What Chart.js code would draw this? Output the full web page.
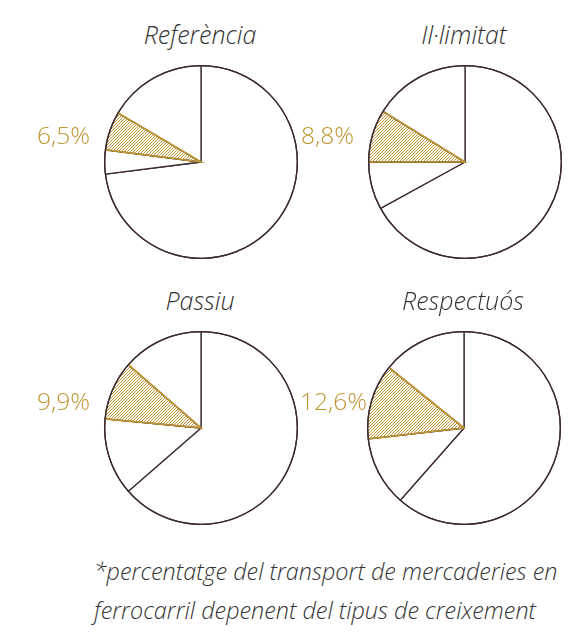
<!DOCTYPE html>
<html>
<head>
<meta charset="utf-8">
<script src="https://cdn.jsdelivr.net/npm/chart.js@4"></script>
<style>
  body { margin: 0; background: #fff; }
  .page { position: relative; width: 579px; height: 638px; font-family: 'Open Sans', sans-serif; }
  .title { position: absolute; width: 200px; text-align: center; font-style: italic; font-weight: 300;
           font-size: 25px; line-height: 30px; color: #333; }
  canvas { position: absolute; }
  .note { position: absolute; left: 94px; top: 552px; font-style: italic; font-weight: 300;
          font-size: 23.4px; line-height: 39px; color: #333; white-space: nowrap; }
</style>
</head>
<body>
<div class="page" id="page">
  <div class="note">*percentatge del transport de mercaderies en<br>ferrocarril depenent del tipus de creixement</div>
</div>
<script>
const titles = ['Referència', 'Il·limitat', 'Passiu', 'Respectuós'];
// slices clockwise from 12 o'clock: big white, small white, rail (hatched), top white
const bigSlice = [73, 67, 63.6, 61.5];
const smallSlice = [4, 8, 12.9, 11.7];
const railShare = [6.5, 8.8, 9.9, 12.6];
const topSlice = [16.5, 16.2, 13.6, 14.2];
const shareLabels = ['6,5%', '8,8%', '9,9%', '12,6%'];

const centers = [[201, 162], [465, 162], [201, 428], [464, 428]];
const titleTops = [19, 19, 285, 285];

const DARK = '#3d2a2d';
const GOLD = '#bf9534';

function hatch(color) {
  const c = document.createElement('canvas');
  c.width = 3;
  c.height = 3;
  const x = c.getContext('2d');
  x.fillStyle = '#fff';
  x.fillRect(0, 0, 3, 3);
  x.fillStyle = color;
  for (let i = 0; i < 3; i++) x.fillRect(i, 2 - i, 1, 1);
  return x.createPattern(c, 'repeat');
}

// re-stroke the rail slice edges in gold and the rim in dark, then the label
const edgePlugin = {
  id: 'edges',
  afterDatasetsDraw(chart) {
    const ctx = chart.ctx;
    const a = chart.getDatasetMeta(0).data[2];
    const { x, y, outerRadius, startAngle, endAngle } = a.getProps(['x', 'y', 'outerRadius', 'startAngle', 'endAngle']);
    ctx.save();
    ctx.lineWidth = 1.7;
    ctx.strokeStyle = GOLD;
    ctx.beginPath();
    ctx.moveTo(x + outerRadius * Math.cos(startAngle), y + outerRadius * Math.sin(startAngle));
    ctx.lineTo(x, y);
    ctx.lineTo(x + outerRadius * Math.cos(endAngle), y + outerRadius * Math.sin(endAngle));
    ctx.stroke();
    ctx.lineWidth = 1.3;
    ctx.strokeStyle = DARK;
    ctx.beginPath();
    ctx.arc(x, y, outerRadius, 0, Math.PI * 2);
    ctx.stroke();
    const opts = chart.options.plugins.edges;
    ctx.fillStyle = GOLD;
    ctx.font = '300 24.5px "Open Sans", sans-serif';
    ctx.textAlign = 'left';
    ctx.textBaseline = 'middle';
    ctx.fillText(opts.label, x - 164, y - 25);
    ctx.restore();
  }
};

const page = document.getElementById('page');

titles.forEach((title, i) => {
  const [cx, cy] = centers[i];

  const t = document.createElement('div');
  t.className = 'title';
  t.textContent = title;
  t.style.left = (cx - 101) + 'px';
  t.style.top = titleTops[i] + 'px';
  page.appendChild(t);

  const canvas = document.createElement('canvas');
  canvas.width = 300;
  canvas.height = 200;
  canvas.style.left = (cx - 200) + 'px';
  canvas.style.top = (cy - 100) + 'px';
  page.appendChild(canvas);

  new Chart(canvas.getContext('2d'), {
    type: 'pie',
    data: {
      labels: ['a', 'b', 'ferrocarril', 'c'],
      datasets: [{
        data: [bigSlice[i], smallSlice[i], railShare[i], topSlice[i]],
        backgroundColor: ['#fff', '#fff', hatch(GOLD), '#fff'],
        borderColor: DARK,
        borderWidth: 1.3,
      }],
    },
    options: {
      responsive: false,
      animation: false,
      events: [],
      layout: { padding: { left: 103, right: 3, top: 3, bottom: 3 } },
      plugins: {
        legend: { display: false },
        tooltip: { enabled: false },
        edges: { label: shareLabels[i] },
      },
    },
    plugins: [edgePlugin],
  });
});
</script>
</body>
</html>
